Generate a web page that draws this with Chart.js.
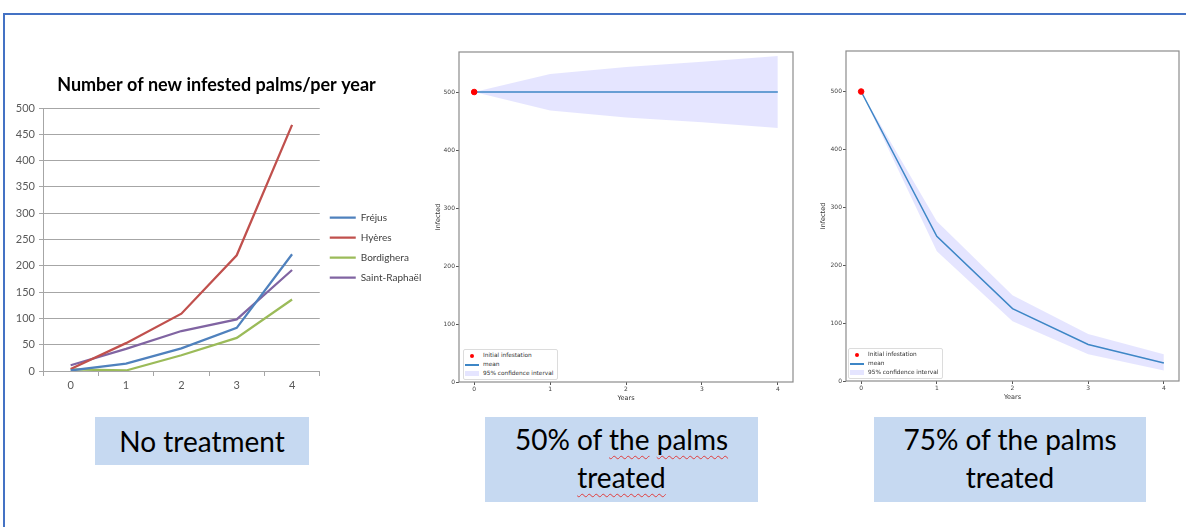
<!DOCTYPE html>
<html>
<head>
<meta charset="utf-8">
<script src="https://cdn.jsdelivr.net/npm/chart.js@4.4.1/dist/chart.umd.min.js"></script>
<style>
  html, body { margin: 0; padding: 0; background: #fff; }
  body { width: 1186px; height: 527px; position: relative; overflow: hidden; font-family: Lato, sans-serif; }
  .frame { position: absolute; left: 3px; top: 13px; width: 1200px; height: 530px; border-top: 2px solid #4472c4; border-left: 2px solid #4472c4; }
  canvas { position: absolute; }
  .label { position: absolute; background: #c6d9f1; color: #000; font-size: 28px; text-align: center; line-height: 38px; }
  .spell { text-decoration: underline wavy #e03c3c; text-decoration-thickness: 1px; text-underline-offset: 5px; }
  .mlegend { position: absolute; width: 93px; height: 28px; padding-top: 1px; background: #fff; border: 1px solid #dcdcdc; border-radius: 2px;
             font-family: 'DejaVu Sans', sans-serif; font-size: 5.8px; color: #333; }
  .mlegend div { position: relative; height: 9px; line-height: 9px; padding-left: 19px; white-space: nowrap; }
  .mlegend .dot { position: absolute; left: 6px; top: 2.5px; width: 4px; height: 4px; border-radius: 50%; background: red; }
  .mlegend .ln { position: absolute; left: 1px; top: 4px; width: 14px; height: 1.5px; background: #3d86c6; }
  .mlegend .patch { position: absolute; left: 1px; top: 2px; width: 14px; height: 5px; background: rgba(0, 0, 255, 0.1); }
</style>
</head>
<body>
<div class="frame"></div>

<canvas id="chartNoTreatment" width="420" height="340" style="left:10px; top:60px;"></canvas>
<canvas id="chart50" width="375" height="370" style="left:425px; top:40px;"></canvas>
<canvas id="chart75" width="381" height="370" style="left:805px; top:40px;"></canvas>

<div class="mlegend" style="left:463px; top:349px;">
  <div><span class="dot"></span>Initial infestation</div>
  <div><span class="ln"></span>mean</div>
  <div><span class="patch"></span>95% confidence interval</div>
</div>
<div class="mlegend" style="left:848px; top:348px;">
  <div><span class="dot"></span>Initial infestation</div>
  <div><span class="ln"></span>mean</div>
  <div><span class="patch"></span>95% confidence interval</div>
</div>

<div class="label" style="left:95px; top:417px; width:214px; height:48px; line-height:48px;">No treatment</div>
<div class="label" style="left:485px; top:417px; width:273px; height:82px; padding-top:3px;">50% of <span class="spell">the</span> <span class="spell">palms</span><br><span class="spell">treated</span></div>
<div class="label" style="left:874px; top:417px; width:272px; height:82px; padding-top:3px;">75% of the palms<br>treated</div>

<script>
// --- no treatment (observed) ---
const years = ['0', '1', '2', '3', '4'];
const frejus = [1, 14, 43, 82, 222];
const hyeres = [4, 53, 109, 220, 468];
const bordighera = [3, 1, 30, 63, 136];
const saintRaphael = [11, 42, 76, 98, 192];

// --- simulations ---
const simYears = [0, 1, 2, 3, 4];
const simYTicks = [0, 100, 200, 300, 400, 500];
const initialYear = 0;
const initialInfected = 500;

const mean50 = [500, 500, 500, 500, 500];
const upper50 = [500, 531, 543, 552, 562];
const lower50 = [500, 468, 456, 448, 438];

const mean75 = [500, 250, 125, 63, 31];
const upper75 = [500, 276, 148, 81, 46];
const lower75 = [500, 224, 103, 46, 18];

const excelFont = { family: 'Lato', size: 11 };
const gridGrey = '#a6a6a6';

function excelLine(label, data, color) {
  return { label: label, data: data, borderColor: color, backgroundColor: color,
           pointBorderColor: color, pointBorderWidth: 2.25 };
}

const ctx1 = document.getElementById('chartNoTreatment').getContext('2d');
const chart1 = new Chart(ctx1, {
  type: 'line',
  data: {
    labels: years,
    datasets: [
      excelLine('Fréjus', frejus, '#4f81bd'),
      excelLine('Hyères', hyeres, '#c0504d'),
      excelLine('Bordighera', bordighera, '#9bbb59'),
      excelLine('Saint-Raphaël', saintRaphael, '#8064a2')
    ]
  },
  options: {
    responsive: false,
    animation: false,
    elements: { line: { borderWidth: 2.25, tension: 0 }, point: { radius: 0 } },
    layout: { padding: { right: 7 } },
    plugins: {
      tooltip: { enabled: false },
      title: {
        display: true,
        text: 'Number of new infested palms/per year',
        color: '#000',
        font: { family: 'Lato', size: 18, weight: 'bold' },
        padding: { top: 14, bottom: 12.4 }
      },
      legend: {
        position: 'right',
        title: { display: true, text: ' ', font: { size: 10 }, padding: { top: 1.5, bottom: 21.5 } },
        labels: {
          usePointStyle: true,
          pointStyle: 'line',
          pointStyleWidth: 26,
          padding: 10,
          color: '#404040',
          font: { family: 'Lato', size: 10 }
        }
      }
    },
    scales: {
      x: {
        offset: true,
        grid: { offset: true, drawOnChartArea: false, tickLength: 5, color: gridGrey },
        border: { color: gridGrey },
        ticks: { color: '#595959', font: excelFont, padding: 3 },
        afterFit: s => { s.height = 29; }
      },
      y: {
        min: 0,
        max: 500,
        ticks: { stepSize: 50, color: '#595959', font: excelFont, padding: 4 },
        grid: { color: gridGrey, tickLength: 4 },
        border: { color: gridGrey },
        afterFit: s => { s.width = 33; }
      }
    }
  }
});

// matplotlib style box round the plot
const frameBox = {
  id: 'frameBox',
  afterDraw(chart) {
    const { ctx, chartArea: a } = chart;
    ctx.save();
    ctx.strokeStyle = '#8c8c8c';
    ctx.lineWidth = 1.2;
    ctx.strokeRect(a.left, a.top, a.right - a.left, a.bottom - a.top);
    ctx.restore();
  }
};

function pts(ys) {
  return simYears.map((x, i) => ({ x: x, y: ys[i] }));
}

function makeSimChart(id, mean, upper, lower, ymax, dims) {
  const ctx = document.getElementById(id).getContext('2d');
  const tickFont = { family: 'DejaVu Sans', size: 6 };
  const titleFont = { family: 'DejaVu Sans', size: 6.5 };
  return new Chart(ctx, {
    type: 'line',
    data: {
      datasets: [
        { label: '95% confidence interval', data: pts(upper), fill: '+1', backgroundColor: 'rgba(0, 0, 255, 0.1)',
          borderColor: 'rgba(0,0,0,0)', pointRadius: 0, order: 3 },
        { label: 'lower', data: pts(lower), fill: false, borderColor: 'rgba(0,0,0,0)', pointRadius: 0, order: 3 },
        { label: 'mean', data: pts(mean), fill: false, borderColor: '#3d86c6', borderWidth: 1.5, pointRadius: 0, order: 2 },
        { type: 'scatter', label: 'Initial infestation', data: [{ x: initialYear, y: initialInfected }],
          backgroundColor: 'red', borderColor: 'red', pointRadius: 2.8, order: 1 }
      ]
    },
    options: {
      responsive: false,
      animation: false,
      layout: { padding: { top: dims.top, right: dims.right, left: 0, bottom: 0 } },
      plugins: { legend: { display: false }, tooltip: { enabled: false } },
      scales: {
        x: {
          type: 'linear',
          min: -0.2,
          max: 4.2,
          afterBuildTicks: s => { s.ticks = simYears.map(v => ({ value: v })); },
          ticks: { color: '#444', font: tickFont, padding: 1 },
          grid: { drawOnChartArea: false, tickLength: 3, color: '#555' },
          border: { display: false },
          title: { display: true, text: 'Years', color: '#333', font: titleFont, padding: { top: 0, bottom: dims.xTitle } },
          afterFit: s => { s.height = dims.xh; }
        },
        y: {
          min: 0,
          max: ymax,
          afterBuildTicks: s => { s.ticks = simYTicks.map(v => ({ value: v })); },
          ticks: { color: '#444', font: tickFont, padding: 1 },
          grid: { drawOnChartArea: false, tickLength: 3, color: '#555' },
          border: { display: false },
          title: { display: true, text: 'Infected', color: '#333', font: titleFont, padding: { top: dims.yTitle, bottom: 0 } },
          afterFit: s => { s.width = dims.yw; }
        }
      }
    },
    plugins: [frameBox]
  });
}

const chart50 = makeSimChart('chart50', mean50, upper50, lower50, 569,
  { top: 12, right: 7, yw: 34, xh: 28, xTitle: 8, yTitle: 9 });
const chart75 = makeSimChart('chart75', mean75, upper75, lower75, 570,
  { top: 11, right: 7, yw: 41, xh: 29, xTitle: 9, yTitle: 14 });
</script>
</body>
</html>
